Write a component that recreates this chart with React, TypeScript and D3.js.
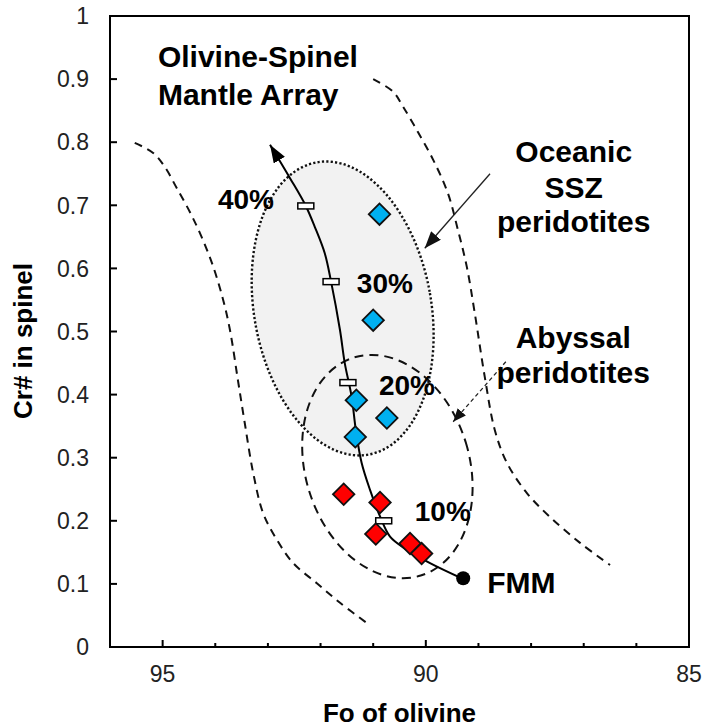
import React, { useEffect, useRef } from 'react';
import * as d3 from 'd3';

// Axis ticks
const foMajorTicks = [95, 90, 85];
const foMinorTicks = [94, 93, 92, 91, 89, 88, 87, 86];
const crTicks = [0, 0.1, 0.2, 0.3, 0.4, 0.5, 0.6, 0.7, 0.8, 0.9, 1];
const crTickLabels = ['0', '0.1', '0.2', '0.3', '0.4', '0.5', '0.6', '0.7', '0.8', '0.9', '1'];

// Samples
const blueFo = [90.88, 91.0, 91.32, 90.74, 91.34];
const blueCr = [0.686, 0.518, 0.391, 0.363, 0.333];
const redFo = [91.56, 90.87, 90.95, 90.30, 90.08];
const redCr = [0.242, 0.229, 0.179, 0.164, 0.148];

// FMM starting point
const fmmFo = 89.29;
const fmmCr = 0.109;

// Melting trend (FMM -> arrow tip)
const meltFo = [89.32, 89.92, 90.36, 90.68, 90.87, 91.06, 91.22, 91.33, 91.41, 91.54, 91.63, 91.80, 91.92, 92.11, 92.28, 92.58, 92.96];
const meltCr = [0.109, 0.133, 0.154, 0.175, 0.207, 0.249, 0.292, 0.344, 0.397, 0.450, 0.502, 0.579, 0.624, 0.666, 0.699, 0.743, 0.796];
const meltTickFo = [90.80, 91.48, 91.80, 92.28];
const meltTickCr = [0.200, 0.419, 0.579, 0.699];
const meltLabels = ['10%', '20%', '30%', '40%'];
const meltLabelFo = [90.21, 90.89, 91.31, 93.95];
const meltLabelCr = [0.199, 0.399, 0.561, 0.694];

// Olivine-spinel mantle array boundaries
const leftFo = [95.53, 95.18, 94.96, 94.73, 94.48, 94.26, 94.04, 93.85, 93.72, 93.57, 93.44, 93.28, 93.09, 92.83, 92.52, 92.07, 91.63, 91.12];
const leftCr = [0.799, 0.783, 0.761, 0.727, 0.689, 0.650, 0.603, 0.550, 0.502, 0.423, 0.355, 0.276, 0.212, 0.170, 0.133, 0.101, 0.070, 0.038];
const rightFo = [91.0, 90.62, 90.43, 90.15, 89.86, 89.58, 89.39, 89.22, 89.07, 88.88, 88.69, 88.46, 88.08, 87.64, 87.07, 86.5];
const rightCr = [0.900, 0.880, 0.856, 0.816, 0.772, 0.719, 0.661, 0.602, 0.529, 0.428, 0.344, 0.292, 0.244, 0.206, 0.165, 0.130];

// Fields: [centre Fo, centre Cr#, radius Fo, radius Cr#, tilt deg]
const sszField = [91.58, 0.5365, 1.683, 0.2352, -10];
const abyssalField = [90.73, 0.286, 1.558, 0.1807, -17];

// Pointer arrows: [fromFo, fromCr, toFo, toCr]
const sszArrow = [88.78, 0.750, 90.02, 0.632];
const abyssalArrow = [88.48, 0.452, 89.48, 0.357];

// Text annotations
const arrayText = ['Olivine-Spinel', 'Mantle Array'];
const arrayFo = [95.09, 95.09];
const arrayCr = [0.919, 0.859];
const noteText = ['Oceanic', 'SSZ', 'peridotites', 'Abyssal', 'peridotites'];
const noteFo = [87.19, 87.19, 87.19, 87.20, 87.20];
const noteCr = [0.769, 0.712, 0.658, 0.474, 0.418];

const FONT = '"Liberation Sans", Arial, Helvetica, sans-serif';

export default function App() {
  const svgRef = useRef<SVGSVGElement>(null);

  useEffect(() => {
    if (!svgRef.current) return;
    const svg = d3.select(svgRef.current);
    svg.selectAll('*').remove();

    const width = 705;
    const height = 728;
    const margin = { top: 16, right: 16, bottom: 81, left: 110 };
    const innerW = width - margin.left - margin.right;
    const innerH = height - margin.top - margin.bottom;

    const x = d3.scaleLinear().domain([96, 85]).range([margin.left, margin.left + innerW]);
    const y = d3.scaleLinear().domain([0, 1]).range([margin.top + innerH, margin.top]);

    const defs = svg.append('defs');
    const addMarker = (id: string, w: number, h: number, color: string) => {
      defs.append('marker')
        .attr('id', id)
        .attr('viewBox', `0 0 ${w} ${h}`)
        .attr('refX', w)
        .attr('refY', h / 2)
        .attr('markerWidth', w)
        .attr('markerHeight', h)
        .attr('markerUnits', 'userSpaceOnUse')
        .attr('orient', 'auto')
        .append('path')
        .attr('d', `M0,0L${w},${h / 2}L0,${h}Z`)
        .attr('fill', color);
    };
    addMarker('arrow-melt', 18, 13, '#000');
    addMarker('arrow-ssz', 17, 13, '#111');
    addMarker('arrow-aby', 13, 11, '#111');

    const plot = svg.append('g');

    // Fields
    const ellipse = (f: number[], fill: string, dash: string, sw: number) => {
      const cx = x(f[0]);
      const cy = y(f[1]);
      const rx = Math.abs(x(f[0] + f[2]) - cx);
      const ry = Math.abs(y(f[1] + f[3]) - cy);
      plot.append('ellipse')
        .attr('cx', cx)
        .attr('cy', cy)
        .attr('rx', rx)
        .attr('ry', ry)
        .attr('transform', `rotate(${f[4]} ${cx} ${cy})`)
        .attr('fill', fill)
        .attr('stroke', '#111')
        .attr('stroke-width', sw)
        .attr('stroke-dasharray', dash);
    };
    ellipse(sszField, '#f2f2f2', '2.2,2.2', 2.4);
    ellipse(abyssalField, 'none', '9,6', 2);

    // Mantle array boundaries
    const curve = d3.line<[number, number]>()
      .x(d => x(d[0]))
      .y(d => y(d[1]))
      .curve(d3.curveCatmullRom);

    [[leftFo, leftCr], [rightFo, rightCr]].forEach(([fo, cr]) => {
      plot.append('path')
        .datum(fo.map((v, i) => [v, cr[i]] as [number, number]))
        .attr('d', curve)
        .attr('fill', 'none')
        .attr('stroke', '#111')
        .attr('stroke-width', 2)
        .attr('stroke-dasharray', '8,6');
    });

    // Pointer arrows
    plot.append('line')
      .attr('x1', x(sszArrow[0])).attr('y1', y(sszArrow[1]))
      .attr('x2', x(sszArrow[2])).attr('y2', y(sszArrow[3]))
      .attr('stroke', '#222')
      .attr('stroke-width', 1.3)
      .attr('marker-end', 'url(#arrow-ssz)');
    plot.append('line')
      .attr('x1', x(abyssalArrow[0])).attr('y1', y(abyssalArrow[1]))
      .attr('x2', x(abyssalArrow[2])).attr('y2', y(abyssalArrow[3]))
      .attr('stroke', '#222')
      .attr('stroke-width', 1.3)
      .attr('stroke-dasharray', '4,3')
      .attr('marker-end', 'url(#arrow-aby)');

    // Melting trend
    plot.append('path')
      .datum(meltFo.map((v, i) => [v, meltCr[i]] as [number, number]))
      .attr('d', curve)
      .attr('fill', 'none')
      .attr('stroke', '#000')
      .attr('stroke-width', 2)
      .attr('marker-end', 'url(#arrow-melt)');

    plot.selectAll('rect.melt-tick')
      .data(meltTickFo)
      .enter()
      .append('rect')
      .attr('class', 'melt-tick')
      .attr('x', d => x(d) - 8)
      .attr('y', (d, i) => y(meltTickCr[i]) - 3)
      .attr('width', 16)
      .attr('height', 6)
      .attr('fill', '#fff')
      .attr('stroke', '#000')
      .attr('stroke-width', 1.5);

    // FMM
    plot.append('circle')
      .attr('cx', x(fmmFo))
      .attr('cy', y(fmmCr))
      .attr('r', 7)
      .attr('fill', '#000');

    // Sample diamonds
    const diamond = d3.symbol().type(d3.symbolSquare).size(230);
    const drawDiamonds = (fo: number[], cr: number[], color: string) => {
      plot.append('g')
        .selectAll('path')
        .data(fo)
        .enter()
        .append('path')
        .attr('d', diamond)
        .attr('transform', (d, i) => `translate(${x(d)},${y(cr[i])}) rotate(45)`)
        .attr('fill', color)
        .attr('stroke', '#111')
        .attr('stroke-width', 1.8);
    };
    drawDiamonds(redFo, redCr, '#ff0000');
    drawDiamonds(blueFo, blueCr, '#00b0f0');

    // Labels
    plot.selectAll('text.melt-label')
      .data(meltLabels)
      .enter()
      .append('text')
      .attr('x', (d, i) => x(meltLabelFo[i]))
      .attr('y', (d, i) => y(meltLabelCr[i]))
      .attr('font-family', FONT)
      .attr('font-weight', 'bold')
      .attr('font-size', 28)
      .attr('fill', '#000')
      .text(d => d);

    plot.append('text')
      .attr('x', x(fmmFo) + 24)
      .attr('y', y(fmmCr) + 15)
      .attr('font-family', FONT)
      .attr('font-weight', 'bold')
      .attr('font-size', 30)
      .text('FMM');

    plot.selectAll('text.array')
      .data(arrayText)
      .enter()
      .append('text')
      .attr('x', (d, i) => x(arrayFo[i]))
      .attr('y', (d, i) => y(arrayCr[i]))
      .attr('font-family', FONT)
      .attr('font-weight', 'bold')
      .attr('font-size', 30)
      .text(d => d);

    plot.selectAll('text.note')
      .data(noteText)
      .enter()
      .append('text')
      .attr('class', 'note')
      .attr('x', (d, i) => x(noteFo[i]))
      .attr('y', (d, i) => y(noteCr[i]))
      .attr('text-anchor', 'middle')
      .attr('font-family', FONT)
      .attr('font-weight', 'bold')
      .attr('font-size', 30)
      .text(d => d);

    // Frame & ticks
    const axes = svg.append('g');
    axes.append('rect')
      .attr('x', margin.left)
      .attr('y', margin.top)
      .attr('width', innerW)
      .attr('height', innerH)
      .attr('fill', 'none')
      .attr('stroke', '#000')
      .attr('stroke-width', 2);

    axes.selectAll('line.ymaj')
      .data(crTicks)
      .enter()
      .append('line')
      .attr('x1', margin.left)
      .attr('x2', margin.left + 7)
      .attr('y1', d => y(d))
      .attr('y2', d => y(d))
      .attr('stroke', '#000')
      .attr('stroke-width', 2);

    axes.selectAll('text.ylab')
      .data(crTicks)
      .enter()
      .append('text')
      .attr('x', margin.left - 21)
      .attr('y', d => y(d))
      .attr('dy', '0.36em')
      .attr('text-anchor', 'end')
      .attr('font-family', FONT)
      .attr('font-size', 23)
      .attr('fill', '#222')
      .text((d, i) => crTickLabels[i]);

    axes.selectAll('line.xmaj')
      .data(foMajorTicks)
      .enter()
      .append('line')
      .attr('x1', d => x(d))
      .attr('x2', d => x(d))
      .attr('y1', margin.top + innerH)
      .attr('y2', margin.top + innerH - 7)
      .attr('stroke', '#000')
      .attr('stroke-width', 2);

    axes.selectAll('line.xmin')
      .data(foMinorTicks)
      .enter()
      .append('line')
      .attr('x1', d => x(d))
      .attr('x2', d => x(d))
      .attr('y1', margin.top + innerH)
      .attr('y2', margin.top + innerH - 4)
      .attr('stroke', '#000')
      .attr('stroke-width', 2);

    axes.selectAll('text.xlab')
      .data(foMajorTicks)
      .enter()
      .append('text')
      .attr('x', d => x(d))
      .attr('y', margin.top + innerH + 35)
      .attr('text-anchor', 'middle')
      .attr('font-family', FONT)
      .attr('font-size', 23)
      .attr('fill', '#222')
      .text(d => String(d));

    // Axis titles
    axes.append('text')
      .attr('x', margin.left + innerW / 2)
      .attr('y', 722)
      .attr('text-anchor', 'middle')
      .attr('font-family', FONT)
      .attr('font-weight', 'bold')
      .attr('font-size', 26)
      .text('Fo of olivine');

    axes.append('text')
      .attr('transform', `translate(32, 341) rotate(-90)`)
      .attr('text-anchor', 'middle')
      .attr('font-family', FONT)
      .attr('font-weight', 'bold')
      .attr('font-size', 26)
      .text('Cr# in spinel');
  }, []);

  return (
    <svg
      ref={svgRef}
      width={705}
      height={728}
      style={{ position: 'absolute', left: 0, top: 0, background: '#fff' }}
    />
  );
}
